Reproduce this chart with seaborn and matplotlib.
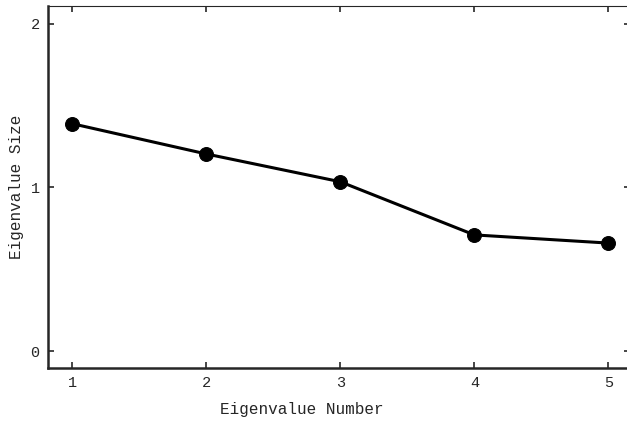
import matplotlib
matplotlib.use("Agg")
import matplotlib.pyplot as plt
import seaborn as sns
import pandas as pd

EIG_NUMBER = [1, 2, 3, 4, 5]
EIG_SIZE = [1.39, 1.205, 1.035, 0.71, 0.66]
X_TICKS = [1, 2, 3, 4, 5]
Y_TICKS = [0, 1, 2]

sns.set_style("ticks")
plt.rcParams["font.family"] = ["Liberation Mono", "DejaVu Sans Mono"]

df = pd.DataFrame({"number": EIG_NUMBER, "size": EIG_SIZE})

fig = plt.figure(figsize=(6.27, 4.24), dpi=100)
# right edge of the frame sits just past the image edge, as in the scan
ax = fig.add_axes([0.0766, 0.132, 0.928, 0.854])

sns.lineplot(data=df, x="number", y="size", ax=ax, color="black",
             linewidth=2.2, marker="o", markersize=10,
             markeredgecolor="black", markerfacecolor="black")

ax.set_xlim(0.82, 5.16)
ax.set_ylim(-0.104, 2.11)
ax.set_xticks(X_TICKS)
ax.set_yticks(Y_TICKS)
ax.tick_params(direction="in", length=4, width=1.2, labelsize=11,
               top=True, right=True, pad=6)
ax.set_xlabel("Eigenvalue Number", fontsize=11.5)
ax.set_ylabel("Eigenvalue Size", fontsize=11.5, labelpad=5)
ax.xaxis.set_label_coords(0.436, -0.095)

for side in ["left", "bottom"]:
    ax.spines[side].set_linewidth(1.8)
for side in ["top", "right"]:
    ax.spines[side].set_linewidth(0.8)

fig.savefig("out.png", dpi=100, facecolor="white")
